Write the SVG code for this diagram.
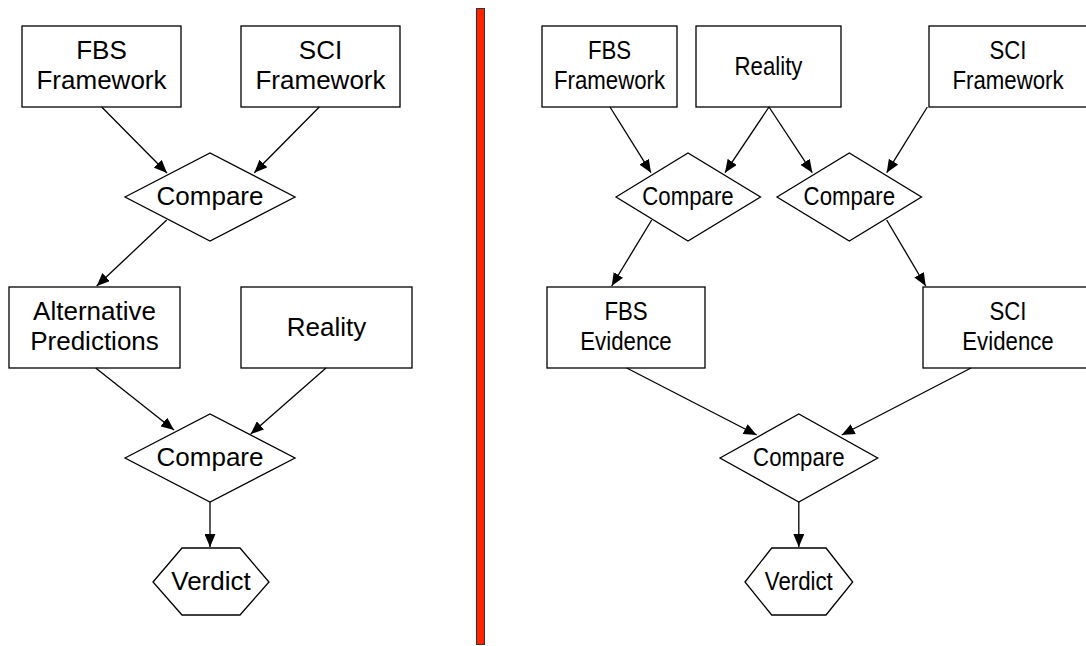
<svg xmlns="http://www.w3.org/2000/svg" width="1086" height="646" viewBox="0 0 1086 646">
  <style>
    .box { fill: #ffffff; stroke: #000000; stroke-width: 1.3; }
    .edge { fill: none; stroke: #000000; stroke-width: 1.3; }
    .lbl { font-family: "Liberation Sans", Arial, sans-serif; font-size: 26px; fill: #000000; text-anchor: middle; }
  </style>
  <defs>
    <marker id="arrow" markerUnits="userSpaceOnUse" markerWidth="13" markerHeight="11" refX="13" refY="5.5" orient="auto">
      <path d="M0,0 L13,5.5 L0,11 z" fill="#000000"/>
    </marker>
  </defs>
  <rect width="1086" height="646" fill="#ffffff"/>

  <!-- divider between the two approaches -->
  <rect id="divider" x="476.5" y="8.5" width="8" height="636" fill="#fe2400" stroke="#333333" stroke-width="1"/>

  <!-- left: compare frameworks first, then against reality -->
  <g id="l-fbs-framework">
    <rect class="box" x="22" y="26" width="159" height="81"/>
    <text class="lbl" x="101.5" y="59">FBS</text>
    <text class="lbl" x="101.5" y="89">Framework</text>
  </g>
  <g id="l-sci-framework">
    <rect class="box" x="241" y="26" width="159" height="81"/>
    <text class="lbl" x="320.5" y="59">SCI</text>
    <text class="lbl" x="320.5" y="89">Framework</text>
  </g>
  <g id="l-compare-1">
    <polygon class="box" points="125,197 210,153 295,197 210,241"/>
    <text class="lbl" x="210" y="205">Compare</text>
  </g>
  <g id="l-alt-predictions">
    <rect class="box" x="9" y="287" width="171" height="81"/>
    <text class="lbl" x="94.5" y="320">Alternative</text>
    <text class="lbl" x="94.5" y="350">Predictions</text>
  </g>
  <g id="l-reality">
    <rect class="box" x="241" y="287" width="171" height="81"/>
    <text class="lbl" x="326.5" y="336">Reality</text>
  </g>
  <g id="l-compare-2">
    <polygon class="box" points="125,458 210,414 295,458 210,502"/>
    <text class="lbl" x="210" y="466">Compare</text>
  </g>
  <g id="l-verdict">
    <polygon class="box" points="153,582 182,548 240,548 269,582 240,615 182,615"/>
    <text class="lbl" x="211" y="590">Verdict</text>
  </g>

  <!-- right: each framework against reality, then compare evidence (narrower lettering) -->
  <g id="r-fbs-framework">
    <rect class="box" x="542" y="26" width="135" height="81"/>
    <text class="lbl" transform="translate(609.5 59) scale(0.855 1)">FBS</text>
    <text class="lbl" transform="translate(609.5 89) scale(0.855 1)">Framework</text>
  </g>
  <g id="r-reality">
    <rect class="box" x="696" y="26" width="145" height="81"/>
    <text class="lbl" transform="translate(768.5 75) scale(0.855 1)">Reality</text>
  </g>
  <g id="r-sci-framework">
    <rect class="box" x="929" y="26" width="158" height="81"/>
    <text class="lbl" transform="translate(1008 59) scale(0.855 1)">SCI</text>
    <text class="lbl" transform="translate(1008 89) scale(0.855 1)">Framework</text>
  </g>
  <g id="r-compare-fbs">
    <polygon class="box" points="616,197 688,153 760.5,197 688,241"/>
    <text class="lbl" transform="translate(688 205) scale(0.855 1)">Compare</text>
  </g>
  <g id="r-compare-sci">
    <polygon class="box" points="777,197 849.3,153 921.5,197 849.3,241"/>
    <text class="lbl" transform="translate(849.3 205) scale(0.855 1)">Compare</text>
  </g>
  <g id="r-fbs-evidence">
    <rect class="box" x="547" y="287" width="158" height="81"/>
    <text class="lbl" transform="translate(626 320) scale(0.855 1)">FBS</text>
    <text class="lbl" transform="translate(626 350) scale(0.855 1)">Evidence</text>
  </g>
  <g id="r-sci-evidence">
    <rect class="box" x="923" y="287" width="170" height="81"/>
    <text class="lbl" transform="translate(1008 320) scale(0.855 1)">SCI</text>
    <text class="lbl" transform="translate(1008 350) scale(0.855 1)">Evidence</text>
  </g>
  <g id="r-compare-final">
    <polygon class="box" points="720,458 798.8,414 877.7,458 798.8,502"/>
    <text class="lbl" transform="translate(798.8 466) scale(0.855 1)">Compare</text>
  </g>
  <g id="r-verdict">
    <polygon class="box" points="745,582 771.7,548 826,548 852.7,582 826,615 771.7,615"/>
    <text class="lbl" transform="translate(798.8 590) scale(0.855 1)">Verdict</text>
  </g>

  <!-- connectors -->
  <g id="connectors">
    <line class="edge" x1="101.7" y1="107" x2="167" y2="173" marker-end="url(#arrow)"/>
    <line class="edge" x1="319.3" y1="107" x2="254.3" y2="172.7" marker-end="url(#arrow)"/>
    <line class="edge" x1="166.7" y1="220" x2="96.7" y2="286" marker-end="url(#arrow)"/>
    <line class="edge" x1="95.7" y1="368" x2="174" y2="430" marker-end="url(#arrow)"/>
    <line class="edge" x1="326" y1="368" x2="250.7" y2="434" marker-end="url(#arrow)"/>
    <line class="edge" x1="210" y1="502" x2="210" y2="547" marker-end="url(#arrow)"/>

    <line class="edge" x1="610" y1="107" x2="651" y2="172.7" marker-end="url(#arrow)"/>
    <line class="edge" x1="769" y1="107" x2="725" y2="172.7" marker-end="url(#arrow)"/>
    <line class="edge" x1="769" y1="107" x2="812.3" y2="172.7" marker-end="url(#arrow)"/>
    <line class="edge" x1="927.3" y1="107" x2="886.7" y2="172.7" marker-end="url(#arrow)"/>
    <line class="edge" x1="651.7" y1="220" x2="611.7" y2="286" marker-end="url(#arrow)"/>
    <line class="edge" x1="886.7" y1="220" x2="925.7" y2="286" marker-end="url(#arrow)"/>
    <line class="edge" x1="626.7" y1="368" x2="756.7" y2="435" marker-end="url(#arrow)"/>
    <line class="edge" x1="971" y1="368" x2="841.7" y2="435" marker-end="url(#arrow)"/>
    <line class="edge" x1="798.8" y1="502" x2="798.8" y2="547" marker-end="url(#arrow)"/>
  </g>
</svg>
